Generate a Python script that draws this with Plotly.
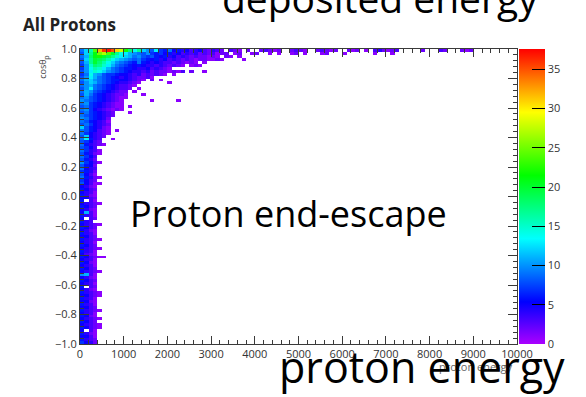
import colorsys
import plotly.graph_objects as go

# Histogram binning: proton energy (x) vs cos(theta_p) (y)
E_MIN, E_MAX, N_EBINS = 0.0, 10000.0, 100
COS_MIN, COS_MAX, N_CBINS = -1.0, 1.0, 100

# Count code per cell: index into LEVELS ('.' = empty bin)
LEVELS = ".123456789abcdefghijklmnopqrstuvwxyzABC"

# One string per cos(theta) row, from cos = +1 (top) down to cos = -1 (bottom);
# character k is the count in energy bin k, missing trailing bins are empty.
ROWS = [
    "9cgowABzvs" "miehca8d76" "9564534532" "432.321.2." ".23212..23" "21..23212." ".212.1.342" "123.....2." "..32...212",
    "8chlprokhe" "dba98a7675" "6453434232" "3122.12..1" "2..1.1..12" ".1...12..." "1......1.." ".1",
    "9bilmkjhfd" "cb9a878656" "4534323221" "21.21.1",
    "8chkjigecb" "a989765645" "3432321221" "121....1",
    "8bhkigeca9" "8769654543" "3232121.1",
    "7afihfdb98" "7656544343" "2321.121",
    "7aegfdb987" "6654453432" "1",
    "8adfeca987" "6544342322" "1213.2..1",
    "79eba87765" "5434232321" ".1",
    "8adb987654" "5432231",
    "9bca987665" "54321.2.1",
    "8acb987654" "4321......" "1",
    "9ab9876543" "321",
    "8ad9876543" "32.1",
    "9ba8765432" "2.1",
    "8b97654322" "1...1",
    "9a87654321" "1",
    "a987654321" "......1..." "..1",
    "9a76543211",
    "8976543211" ".1",
    "9a75432121",
    "89765432" "...1",
    "98765432",
    "a976542",
    "9865431",
    "8975432",
    "c865421",
    "9865321.1",
    "9754321",
    "8c5432",
    "9d643..1",
    "87532",
    "964321",
    "8753",
    "97431",
    "86421",
    "9753",
    "8642",
    "a7531",
    "8652",
    "9543",
    "7642",
    "8531",
    "96421",
    "7532",
    "85311",
    "5421",
    "6532",
    "5431",
    "6421",
    "5532",
    "6.31",
    "54321",
    "6532",
    "5421",
    "5b31",
    "6431",
    "5.32",
    "643",
    "54321",
    "6532",
    "5421",
    "6431",
    "5532",
    "64321",
    "5431",
    "6532",
    "54321",
    "6431",
    "5321",
    "653211",
    "5431",
    "6521",
    "5431",
    "6532",
    "54321",
    "ab31",
    "5421",
    "6532",
    "5431",
    "6.32",
    "5421",
    "64321",
    "55321",
    "6431",
    "5521",
    "6431",
    "5532",
    "64321",
    "5431",
    "6521",
    "54321",
    "6532",
    "54321",
    "65321",
    "5.31",
    "6421",
    "5531",
    "6432",
    "7542",
]

X_TICKS = [0, 1000, 2000, 3000, 4000, 5000, 6000, 7000, 8000, 9000, 10000]
X_TICK_TEXT = ["0", "1000", "2000", "3000", "4000", "5000", "6000",
               "7000", "8000", "9000", "10000"]
Y_TICKS = [-1.0, -0.8, -0.6, -0.4, -0.2, 0.0, 0.2, 0.4, 0.6, 0.8, 1.0]
Z_TICKS = [0, 5, 10, 15, 20, 25, 30, 35]
Z_MAX = 37.6


def decode(row):
    cells = [LEVELS.index(c) for c in row]
    cells += [0] * (N_EBINS - len(cells))
    return [v if v > 0 else None for v in cells]


# bottom row first so that y increases upwards
z = [decode(r) for r in reversed(ROWS)]

# violet -> blue -> cyan -> green -> yellow -> red palette
colorscale = []
for i in range(29):
    t = i / 28
    r, g, b = colorsys.hsv_to_rgb((280.0 * (1 - t)) / 360.0, 1.0, 1.0)
    colorscale.append([round(t, 4), f"rgb({int(r*255)},{int(g*255)},{int(b*255)})"])

dx = (E_MAX - E_MIN) / N_EBINS
dy = (COS_MAX - COS_MIN) / N_CBINS

AXIS_GREY = "#3a3a3a"

fig = go.Figure(go.Heatmap(
    z=z,
    x0=E_MIN + dx / 2, dx=dx,
    y0=COS_MIN + dy / 2, dy=dy,
    zmin=0, zmax=Z_MAX,
    colorscale=colorscale,
    colorbar=dict(
        x=1.005, xanchor="left", xpad=0,
        y=1, yanchor="top", ypad=0, len=1,
        thickness=26, outlinewidth=0,
        tickvals=Z_TICKS,
        ticks="inside", ticklen=13, tickcolor="black", tickwidth=1,
    ),
))

fig.update_xaxes(
    range=[E_MIN, E_MAX], tickvals=X_TICKS, ticktext=X_TICK_TEXT,
    ticks="inside", ticklen=8, tickcolor=AXIS_GREY, tickwidth=1,
    showline=True, linecolor=AXIS_GREY, mirror="ticks",
    showgrid=False, zeroline=False,
    minor=dict(dtick=200, ticks="inside", ticklen=4, tickcolor=AXIS_GREY),
)
fig.update_yaxes(
    range=[COS_MIN, COS_MAX], tickvals=Y_TICKS, tickformat=".1f",
    ticks="inside", ticklen=9, tickcolor=AXIS_GREY, tickwidth=1,
    showline=True, linecolor=AXIS_GREY, mirror="ticks",
    showgrid=False, zeroline=False,
    minor=dict(dtick=0.04, ticks="inside", ticklen=4, tickcolor=AXIS_GREY),
)

annotations = [
    dict(text="All Protons", x=-0.136, y=1.082, xanchor="left", yanchor="middle",
         font=dict(size=17, color="#222", weight="bold")),
    dict(text="cosθ", x=-0.0864, y=0.9305, textangle=-90,
         xanchor="center", yanchor="middle",
         font=dict(size=9, color="#444")),
    dict(text="p", x=-0.0773, y=0.971, textangle=-90,
         xanchor="center", yanchor="middle",
         font=dict(size=7, color="#444")),
    dict(text="proton energy", x=0.995, y=-0.0746, xanchor="right", yanchor="middle",
         font=dict(size=11, color="#666")),
    dict(text="deposited energy", x=0.686, y=1.176, xanchor="center", yanchor="middle",
         font=dict(size=39, color="black")),
    dict(text="Proton end-escape", x=0.478, y=0.444, xanchor="center", yanchor="middle",
         font=dict(size=36, color="black")),
    dict(text="proton energy", x=0.783, y=-0.0746, xanchor="center", yanchor="middle",
         font=dict(size=43, color="black")),
]
for a in annotations:
    a.update(xref="paper", yref="paper", showarrow=False)

fig.update_layout(
    width=586, height=397,
    margin=dict(l=80, r=66, t=49, b=53),
    paper_bgcolor="white", plot_bgcolor="white",
    font=dict(size=11, color="#333"),
    annotations=annotations,
    showlegend=False,
)

fig.write_html("out.html")
